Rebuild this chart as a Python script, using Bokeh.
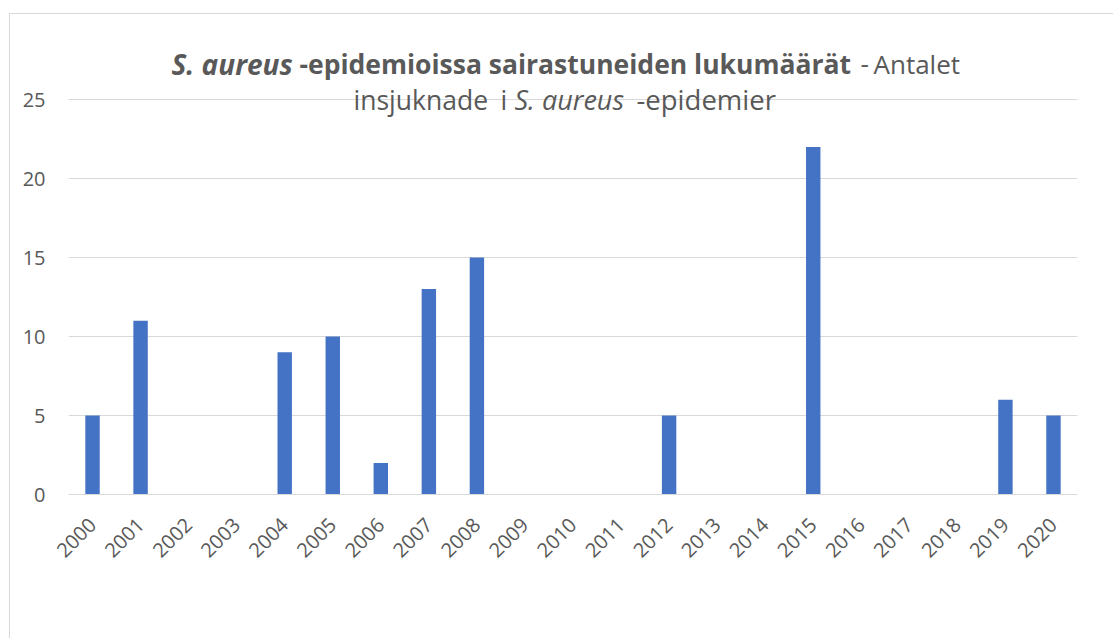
import math
from bokeh.plotting import figure
from bokeh.models import Label, Range1d, FixedTicker
from bokeh.embed import file_html
from bokeh.resources import INLINE

years = [str(y) for y in range(2000, 2021)]
cases = [5, 11, 0, 0, 9, 10, 2, 13, 15, 0, 0, 0, 5, 0, 0, 22, 0, 0, 0, 6, 5]
y_ticks = [0, 5, 10, 15, 20, 25]

GREY = "#595959"
GRID = "#d9d9d9"
FONT = "Open Sans"

# frame spans 0..30 so the title area (above 25) lies inside the frame
p = figure(x_range=years, y_range=Range1d(0, 30), width=1104, height=625,
           output_backend="svg", toolbar_location=None,
           min_border_left=58, min_border_right=37, min_border_top=6, min_border_bottom=145)
p.styles = {"border-left": "1px solid " + GRID, "border-top": "1px solid " + GRID,
            "margin-left": "9px", "margin-top": "13px"}
p.outline_line_color = None
p.background_fill_color = "white"
p.border_fill_color = "white"

p.vbar(x=years, top=cases, width=0.3, color="#4472C4", line_color=None)

p.xgrid.grid_line_color = None
p.ygrid.grid_line_color = GRID
p.ygrid.grid_line_width = 1
p.ygrid.ticker = FixedTicker(ticks=y_ticks)
p.yaxis.ticker = FixedTicker(ticks=y_ticks)
p.yaxis.axis_line_color = None
p.yaxis.major_tick_line_color = None
p.yaxis.minor_tick_line_color = None
p.yaxis.major_tick_out = 0
p.yaxis.major_label_standoff = 23
p.yaxis.major_label_text_font = FONT
p.yaxis.major_label_text_font_size = "20px"
p.yaxis.major_label_text_color = GREY

p.xaxis.axis_line_color = GRID
p.xaxis.major_tick_line_color = None
p.xaxis.minor_tick_line_color = None
p.xaxis.major_tick_out = 0
p.xaxis.major_label_orientation = math.pi / 4
p.xaxis.major_label_standoff = 27
p.xaxis.major_label_text_font = FONT
p.xaxis.major_label_text_font_size = "20px"
p.xaxis.major_label_text_color = GREY

FRAME_LEFT = 68
PX_PER_UNIT = 395 / 25
segments = [
    ("S. aureus", "bold italic", "28px", 171, 63),
    ("-epidemioissa sairastuneiden lukumäärät", "bold", "26.5px", 299, 63),
    ("-", "normal", "26px", 860, 63),
    ("Antalet", "normal", "26px", 873, 63),
    ("insjuknade", "normal", "26.5px", 353, 99),
    ("i", "normal", "26.5px", 500, 99),
    ("S. aureus", "italic", "27px", 514, 99),
    ("-epidemier", "normal", "27.5px", 636, 99),
]
for txt, style, size, px, py in segments:
    p.add_layout(Label(x=px - FRAME_LEFT, y=(494 - py) / PX_PER_UNIT, x_units="screen", y_units="data",
                       text=txt, text_font=FONT, text_font_style=style, text_font_size=size,
                       text_color=GREY, text_baseline="alphabetic", text_align="left"))

open("out.html", "w").write(file_html(p, INLINE))
